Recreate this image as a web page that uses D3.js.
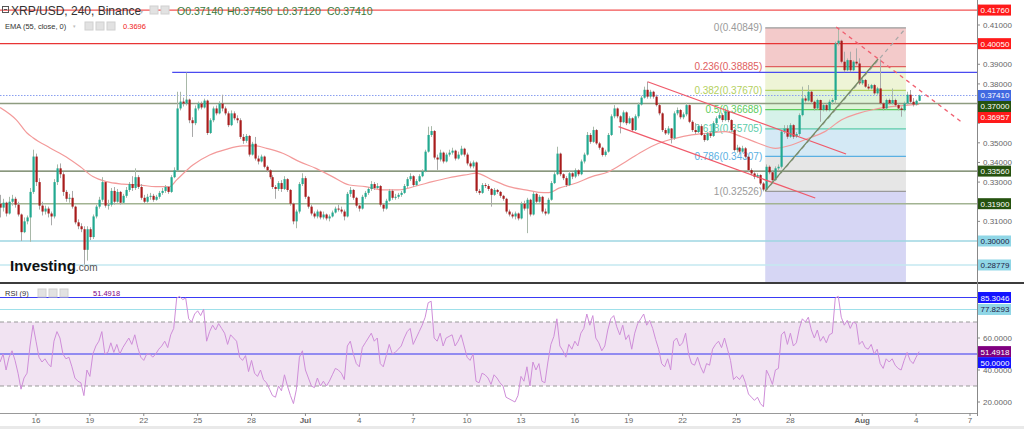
<!DOCTYPE html>
<html><head><meta charset="utf-8">
<script src="https://cdn.jsdelivr.net/npm/d3@7"></script>
<style>body{margin:0;background:#fff;overflow:hidden}svg{display:block;font-family:"Liberation Sans",Arial,sans-serif}</style>
</head><body><svg id="c" width="1024" height="429"></svg>
<script>
// ---------- DATA (prices in 1e-4 USD) ----------
const startUTC = Date.UTC(2022,5,14);   // first 4h candle
const open0 = 3190;
const close = [3170,3195,3140,3200,3215,3185,3135,3045,3100,3120,3250,3430,3300,3180,3150,3165,3140,3125,3300,3370,
3340,3250,3215,3220,3175,3095,3075,3060,2955,3060,3020,3125,3175,3210,3300,3180,3185,3255,3200,3250,
3195,3230,3260,3290,3270,3325,3275,3220,3200,3225,3230,3210,3225,3245,3255,3275,3250,3325,3360,3675,
3710,3700,3720,3615,3600,3675,3700,3680,3715,3550,3615,3675,3650,3700,3675,3650,3590,3650,3625,3615,
3530,3510,3535,3440,3495,3420,3405,3430,3378,3360,3325,3275,3265,3295,3265,3315,3260,3190,3100,3150,
3290,3320,3225,3175,3140,3125,3150,3120,3135,3115,3125,3145,3165,3160,3150,3125,3240,3260,3220,3180,
3165,3225,3245,3265,3290,3270,3280,3185,3165,3205,3255,3220,3225,3235,3245,3280,3315,3330,3285,3305,
3330,3355,3455,3540,3560,3425,3415,3450,3405,3440,3450,3460,3420,3440,3470,3440,3395,3380,3400,3255,
3245,3285,3280,3265,3235,3260,3250,3230,3215,3150,3135,3125,3140,3115,3190,3165,3210,3135,3240,3200,
3225,3150,3140,3210,3295,3340,3445,3340,3320,3285,3345,3328,3360,3340,3405,3440,3540,3505,3565,3497,
3475,3438,3455,3540,3635,3675,3635,3605,3655,3600,3625,3565,3635,3695,3730,3770,3735,3760,3735,3692,
3650,3565,3548,3573,3523,3650,3667,3630,3645,3692,3607,3565,3555,3585,3540,3514,3548,3535,3600,3625,
3641,3616,3660,3616,3565,3463,3475,3455,3472,3429,3361,3344,3327,3336,3293,3262,3378,3350,3310,3370,
3378,3557,3573,3531,3590,3531,3545,3641,3726,3715,3760,3709,3675,3718,3667,3692,3667,3709,3718,4006,
4020,3913,3870,3921,3870,3913,3904,3803,3820,3786,3777,3794,3752,3777,3701,3675,3718,3701,3718,3692,
3675,3667,3701,3745,3709,3695,3714,3741];
const high = [3235,3215,3200,3225,3235,3225,3200,3140,3120,3130,3270,3465,3445,3320,3200,3180,3175,3150,3315,3390,
3395,3350,3260,3240,3255,3180,3110,3090,3075,3075,3070,3135,3185,3225,3325,3290,3210,3270,3275,3265,
3255,3240,3275,3300,3330,3370,3335,3290,3235,3240,3245,3240,3235,3255,3270,3285,3280,3335,3375,3760,
3760,3730,3858,3725,3630,3690,3710,3710,3725,3720,3625,3685,3690,3712,3745,3685,3660,3665,3660,3640,
3625,3545,3545,3540,3505,3530,3435,3440,3435,3385,3365,3335,3285,3305,3310,3330,3320,3265,3195,3160,
3300,3345,3330,3230,3185,3150,3160,3155,3150,3140,3135,3155,3175,3185,3175,3160,3250,3275,3265,3225,
3185,3235,3255,3275,3305,3300,3295,3285,3190,3215,3265,3262,3240,3245,3255,3290,3325,3345,3335,3315,
3340,3365,3465,3582,3585,3565,3440,3465,3455,3450,3465,3475,3465,3455,3485,3475,3450,3405,3410,3405,
3265,3295,3295,3290,3270,3270,3265,3255,3235,3220,3160,3145,3150,3145,3200,3205,3220,3215,3250,3245,
3235,3230,3165,3220,3305,3350,3480,3450,3345,3330,3355,3350,3370,3365,3415,3450,3555,3550,3582,3570,
3505,3480,3465,3550,3645,3692,3680,3640,3665,3660,3635,3630,3645,3705,3740,3786,3811,3770,3765,3745,
3700,3655,3575,3585,3575,3660,3680,3672,3655,3704,3695,3615,3600,3595,3595,3550,3555,3555,3610,3635,
3655,3650,3675,3665,3620,3570,3490,3480,3485,3478,3435,3370,3350,3345,3340,3300,3390,3385,3355,3380,
3390,3565,3590,3590,3600,3595,3555,3650,3786,3740,3794,3765,3715,3725,3720,3700,3700,3720,3728,4015,
4085,4025,3964,3930,3964,3920,3981,3930,3830,3825,3800,3800,3800,3785,3925,3705,3725,3725,3777,3725,
3700,3685,3710,3760,3769,3728,3720,3745];
const low = [3120,3150,3125,3135,3180,3170,3125,3000,3040,3085,2996,3240,3280,3160,3130,3135,3120,3080,3115,3285,
3320,3230,3200,3195,3165,3085,3060,3045,2880,2900,3005,3010,3115,3165,3200,3170,3160,3175,3185,3195,
3185,3190,3220,3250,3255,3260,3265,3210,3190,3195,3210,3200,3205,3215,3235,3245,3240,3245,3320,3355,
3665,3685,3690,3600,3530,3590,3665,3670,3675,3540,3545,3605,3640,3645,3660,3640,3580,3585,3615,3600,
3520,3495,3500,3430,3435,3410,3390,3400,3370,3350,3315,3265,3215,3255,3250,3260,3250,3180,3085,3065,
3140,3280,3215,3165,3130,3115,3115,3110,3110,3105,3100,3120,3140,3150,3140,3105,3120,3225,3210,3170,
3150,3160,3215,3235,3255,3260,3265,3175,3150,3160,3200,3210,3210,3215,3225,3240,3270,3305,3275,3280,
3300,3325,3350,3450,3530,3415,3362,3405,3395,3400,3430,3440,3410,3415,3435,3430,3385,3370,3370,3245,
3235,3240,3270,3255,3175,3230,3240,3220,3205,3140,3125,3115,3110,3105,3110,3155,3040,3125,3130,3190,
3195,3140,3130,3135,3205,3290,3335,3330,3310,3275,3280,3315,3320,3330,3335,3395,3435,3495,3500,3490,
3465,3430,3430,3450,3535,3625,3625,3548,3600,3590,3595,3555,3560,3625,3690,3725,3725,3725,3725,3685,
3640,3555,3540,3540,3497,3515,3640,3620,3620,3635,3600,3555,3545,3550,3535,3505,3510,3525,3530,3595,
3620,3605,3610,3605,3555,3455,3450,3445,3450,3420,3350,3335,3315,3320,3285,3253,3255,3340,3300,3305,
3360,3370,3545,3520,3525,3520,3525,3535,3635,3705,3710,3700,3665,3670,3607,3660,3660,3660,3695,3700,
3995,3905,3860,3865,3860,3865,3895,3795,3795,3780,3770,3772,3745,3745,3695,3665,3670,3695,3695,3685,
3665,3633,3660,3695,3700,3685,3690,3712];
// EMA(55): candle index -> value
const emaIdx = [0,5.5,9,11,16.7,22,26.7,31,35.5,41,46.7,52,56.7,59,64.4,70,75.5,81,85.5,89,94.4,100,105.5,111,116.7,122,127.7,133,139,144.4,150,156.7,159,164.4,170,175.5,180,183.3,186.7,192.2,197.7,203.3,209,214.4,220,225.5,231,236.7,242.2,247.7,253.3,259,264.4,270,275.5,281,286.7,292.2,297.7,307];
const emaVal = [3680,3616,3550,3526,3474,3429,3379,3328,3302,3290,3285,3277,3277,3311,3387,3438,3467,3484,3484,3472,3447,3404,3370,3328,3285,3277,3260,3260,3280,3302,3322,3340,3346,3311,3277,3260,3248,3246,3269,3294,3328,3353,3404,3455,3498,3523,3540,3549,3557,3531,3498,3472,3489,3523,3557,3616,3650,3671,3684,3696];
// RSI(9), one value per candle
const rsi = [45,50,40,48,52,46,38,28,35,38,55,68,58,48,45,47,44,42,58,64,60,50,47,48,42,35,33,32,24,40,36,50,55,58,64,50,51,57,51,56,50,
54,57,60,56,62,54,48,46,50,50,48,50,53,55,58,54,62,66,85,86,84,85,72,70,75,77,74,78,58,64,68,65,69,66,63,56,62,60,58,48,
46,49,39,46,38,36,40,34,32,28,24,23,30,27,37,30,24,19,28,48,52,40,35,30,29,35,30,33,30,33,37,41,40,38,34,55,58,50,44,42,54,57,
60,63,58,60,44,42,49,56,50,51,53,55,60,64,66,56,60,64,68,73,82,83,60,58,63,55,60,61,62,55,58,62,55,48,46,50,33,32,38,37,35,31,
37,35,32,30,23,22,21,20,24,36,33,42,30,45,40,44,33,32,45,56,61,72,55,52,48,56,53,58,55,63,66,75,68,74,60,57,52,55,65,72,74,67,
62,68,59,62,53,63,69,72,75,68,71,66,59,53,44,42,47,40,58,60,55,57,63,50,44,43,48,42,38,44,43,53,56,58,54,60,53,46,34,36,34,37,
32,25,23,21,23,19,17,40,36,31,40,41,62,64,56,63,55,57,66,72,70,73,65,60,65,58,61,57,62,63,85,86,73,68,71,66,70,69,56,58,54,53,
56,50,53,44,41,47,45,47,43,41,40,46,51,46,44,48,51.4918];
// horizontal price levels drawn on the chart
const hLevels = [0.41760,0.40050,0.37410,0.37000,0.33560,0.31900,0.30000,0.28779];
const emaLast = 0.36957;
const blueLevel = {from:57.5, price:0.3859};
// Fibonacci retracement
const fibRatios = ["0","0.236","0.382","0.5","0.618","0.786","1"];
const fibPrices = [0.40849,0.38885,0.37670,0.36688,0.35705,0.34307,0.32526];
const fibFrom = 255.6, fibTo = 302.6;
// trend lines: [candle index, price]
const chanUpper = [[216.3,0.3811],[282.6,0.3443]];
const chanLower = [[206.6,0.3582],[272.3,0.3219]];
const redDash   = [[279.3,0.4090],[321.6,0.3601]];
const upTrend   = [[255.6,0.3255],[293.3,0.3927]];
// RSI levels
const rsiLevels = [85.3046,77.8293,50];
const rsiBand = [30,70];
const rsiTicks = [20,40,60];
const priceTicks = d3.range(29,43).map(v=>v/100);
const dateTicks = ["2022-06-16","2022-06-19","2022-06-22","2022-06-25","2022-06-28","2022-07-01","2022-07-04","2022-07-07","2022-07-10","2022-07-13","2022-07-16","2022-07-19","2022-07-22","2022-07-25","2022-07-28","2022-08-01","2022-08-04","2022-08-07"];
const ohlcLast = ["O0.37140","H0.37450","L0.37120","C0.37410"];

// ---------- LAYOUT ----------
const svg = d3.select("#c");
const plotR = 977, mainT = 0, mainB = 282, rsiT = 285, rsiB = 413;
const T = i => new Date(startUTC + i*4*3600e3);
const x = d3.scaleUtc().domain([new Date(Date.UTC(2022,5,16)), new Date(Date.UTC(2022,7,7))]).range([36,970]);
const xi = i => x(T(i));
const y = d3.scaleLinear().domain([0.30,0.41]).range([241,25]);
const yr = d3.scaleLinear().domain([20,60]).range([402,338]);
const P = v => v/10000;

const defs = svg.append("defs");
defs.append("clipPath").attr("id","mc").append("rect").attr("x",0).attr("y",mainT).attr("width",plotR).attr("height",mainB-mainT);
defs.append("clipPath").attr("id","rc").append("rect").attr("x",0).attr("y",rsiT).attr("width",plotR).attr("height",rsiB-rsiT);

svg.append("rect").attr("width",1024).attr("height",429).attr("fill","#fff");
const main = svg.append("g").attr("clip-path","url(#mc)");

// Fibonacci zones
const fibFill = ["#f3caca","#eef4d6","#def4d8","#d6f2e9","#d4e9f5","#e6e6e6"];
const fibLine = ["#9a9a9a","#e06060","#b4d060","#5ccc5c","#5cccaa","#5ab0e2","#9a9a9a"];
const fx0 = xi(fibFrom), fx1 = xi(fibTo);
for (let k=0;k<6;k++){
  main.append("rect").attr("x",fx0).attr("width",fx1-fx0)
    .attr("y",y(fibPrices[k])).attr("height",y(fibPrices[k+1])-y(fibPrices[k])).attr("fill",fibFill[k]);
}
main.append("rect").attr("x",fx0).attr("width",fx1-fx0).attr("y",y(fibPrices[6])).attr("height",mainB-y(fibPrices[6])).attr("fill","#d6d6f4");
fibPrices.forEach((p,k)=>{
  main.append("line").attr("x1",fx0).attr("x2",fx1).attr("y1",y(p)).attr("y2",y(p)).attr("stroke",fibLine[k]).attr("stroke-width",1.2);
  main.append("text").attr("x",fx0-3).attr("y",y(p)+3.5).attr("text-anchor","end").attr("font-size",10).attr("fill",fibLine[k])
    .text(fibRatios[k]+"("+p.toFixed(5)+")");
});

// horizontal lines
const hStyle = [
 {c:"#f25252",w:1.3,bg:"#ff1a1a",tc:"#fff"},
 {c:"#e83434",w:1.3,bg:"#ff1a1a",tc:"#fff"},
 {c:"#8a9ff0",w:1.2,bg:"#4169e1",tc:"#fff",dash:"1.5,1.5"},
 {c:"#8e9c80",w:1.6,bg:"#25520f",tc:"#fff"},
 {c:"#627552",w:1.4,bg:"#25520f",tc:"#fff"},
 {c:"#a2b392",w:1.4,bg:"#25520f",tc:"#fff"},
 {c:"#9ed6e2",w:1.3,bg:"#8fd6e6",tc:"#224"},
 {c:"#c4e8f0",w:1.5,bg:"#8fd6e6",tc:"#224"}];
hLevels.forEach((p,k)=>{
  const s=hStyle[k];
  main.append("line").attr("x1",0).attr("x2",plotR).attr("y1",y(p)).attr("y2",y(p))
    .attr("stroke",s.c).attr("stroke-width",s.w).attr("stroke-dasharray",s.dash||null);
});
main.append("line").attr("x1",xi(blueLevel.from)).attr("x2",plotR).attr("y1",y(blueLevel.price)).attr("y2",y(blueLevel.price))
  .attr("stroke","#4a4af0").attr("stroke-width",1.2);

// EMA
const emaPts = emaIdx.map((d,k)=>[xi(d), y(P(emaVal[k]))]);
main.append("path").attr("d",d3.line().curve(d3.curveMonotoneX)(emaPts)).attr("fill","none").attr("stroke","#f39a9a").attr("stroke-width",1.2);

// candles
const cg = main.append("g");
close.forEach((c,i)=>{
  const o = i? close[i-1] : open0;
  const cx = Math.round(xi(i));
  const bull = c>=o;
  cg.append("line").attr("x1",cx+0.5).attr("x2",cx+0.5).attr("y1",y(P(high[i]))).attr("y2",y(P(low[i])))
    .attr("stroke",bull?"#a8b8a8":"#a9a9a9").attr("stroke-width",1);
  const yt = y(P(Math.max(o,c))), yb = y(P(Math.min(o,c)));
  cg.append("rect").attr("x",cx-0.5).attr("width",2.2).attr("y",yt).attr("height",Math.max(1,yb-yt))
    .attr("fill",bull?"#22a990":"#a81c1c");
});

// trend lines
const seg = (pts,col,w,dash)=>main.append("line")
  .attr("x1",xi(pts[0][0])).attr("y1",y(pts[0][1])).attr("x2",xi(pts[1][0])).attr("y2",y(pts[1][1]))
  .attr("stroke",col).attr("stroke-width",w).attr("stroke-dasharray",dash||null);
seg(chanUpper,"#f05a6a",1.3);
seg(chanLower,"#f05a6a",1.3);
seg(redDash,"#f06070",1.3,"4,4");
seg([[fibFrom,fibPrices[6]],[fibTo,fibPrices[0]]],"#a8a8a8",1.2,"4,4");
seg(upTrend,"#748a64",1.3);

// Investing logo
const logo = svg.append("text").attr("x",10).attr("y",271);
logo.append("tspan").attr("font-size",15).attr("font-weight","bold").attr("fill","#111").text("Investing");
logo.append("tspan").attr("font-size",10).attr("fill","#555").text(".com");

// ---------- RSI panel ----------
const rp = svg.append("g").attr("clip-path","url(#rc)");
rp.append("rect").attr("x",0).attr("width",plotR).attr("y",yr(rsiBand[1])).attr("height",yr(rsiBand[0])-yr(rsiBand[1])).attr("fill","#f1e3f2");
rsiBand.forEach(v=>rp.append("line").attr("x1",0).attr("x2",plotR).attr("y1",yr(v)).attr("y2",yr(v)).attr("stroke","#999").attr("stroke-dasharray","4,3"));
const rsiStyle=[{c:"#3a3af5",bg:"#1414ff",tc:"#fff"},{c:"#9ee0ea",bg:"#8fd6e6",tc:"#224"},{c:"#3434f0",bg:"#1414ff",tc:"#fff"}];
rsiLevels.forEach((v,k)=>rp.append("line").attr("x1",0).attr("x2",plotR).attr("y1",yr(v)).attr("y2",yr(v)).attr("stroke",rsiStyle[k].c).attr("stroke-width",1.1));
rp.append("path").attr("d",d3.line()(rsi.map((v,i)=>[xi(i),yr(v)]))).attr("fill","none").attr("stroke","#cf8ed9").attr("stroke-width",1);

// ---------- frames & axes ----------
svg.append("line").attr("x1",0).attr("x2",1024).attr("y1",283).attr("y2",283).attr("stroke","#3c3c3c").attr("stroke-width",2);
svg.append("line").attr("x1",plotR+0.5).attr("x2",plotR+0.5).attr("y1",0).attr("y2",rsiB+3).attr("stroke","#888");
svg.append("line").attr("x1",0).attr("x2",plotR).attr("y1",rsiB+0.5).attr("y2",rsiB+0.5).attr("stroke","#999");
svg.append("rect").attr("x",0).attr("y",426).attr("width",1024).attr("height",3).attr("fill","#e9e9e9");

// value label positions with simple stacking
function stack(items){
  items.sort((a,b)=>a.y-b.y);
  let last=-1e9;
  items.forEach(it=>{ it.py=Math.max(it.y,last+11); last=it.py; });
  return items;
}
const mainLabels = stack(hLevels.map((p,k)=>({y:y(p),bg:hStyle[k].bg,tc:hStyle[k].tc,t:p.toFixed(5)}))
  .concat([{y:y(emaLast),bg:"#ff1a1a",tc:"#fff",t:emaLast.toFixed(5)}]));
const rsiLabels = stack(rsiLevels.map((v,k)=>({y:yr(v),bg:rsiStyle[k].bg,tc:rsiStyle[k].tc,t:v.toFixed(4)}))
  .concat([{y:yr(rsi[rsi.length-1]),bg:"#800080",tc:"#fff",t:rsi[rsi.length-1].toFixed(4)}]));
const free = (yy,labs)=>labs.every(l=>Math.abs(l.py-yy)>=7);

// tick labels
const axg = svg.append("g").attr("font-size",8).attr("fill","#666");
priceTicks.forEach(p=>{
  const yy=y(p); if(yy<2||yy>mainB-3) return;
  axg.append("line").attr("x1",plotR).attr("x2",plotR+3).attr("y1",yy).attr("y2",yy).attr("stroke","#888");
  if(free(yy,mainLabels)) axg.append("text").attr("x",plotR+6).attr("y",yy+3).text(p.toFixed(5));
});
rsiTicks.forEach(v=>{
  const yy=yr(v);
  axg.append("line").attr("x1",plotR).attr("x2",plotR+3).attr("y1",yy).attr("y2",yy).attr("stroke","#888");
  if(free(yy,rsiLabels)) axg.append("text").attr("x",plotR+6).attr("y",yy+3).text(v.toFixed(4));
});
dateTicks.forEach(s=>{
  const d = new Date(s+"T00:00:00Z"); const xx = x(d);
  axg.append("line").attr("x1",xx).attr("x2",xx).attr("y1",rsiB).attr("y2",rsiB+3).attr("stroke","#888");
  const lab = d.getUTCDate()===1 ? d3.utcFormat("%b")(d) : String(d.getUTCDate());
  axg.append("text").attr("x",xx).attr("y",rsiB+10).attr("text-anchor","middle").attr("font-weight",d.getUTCDate()===1?"bold":null).text(lab);
});
mainLabels.concat(rsiLabels).forEach(it=>{
  svg.append("rect").attr("x",plotR+1).attr("y",it.py-5.5).attr("width",33).attr("height",11).attr("fill",it.bg);
  svg.append("text").attr("x",plotR+3.5).attr("y",it.py+3).attr("font-size",8).attr("fill",it.tc).text(it.t);
});

// ---------- headers ----------
const icon=(xx,yy)=>svg.append("rect").attr("x",xx).attr("y",yy).attr("width",8).attr("height",8).attr("fill","#e2e2e2").attr("stroke","#d0d0d0");
svg.append("rect").attr("x",2.5).attr("y",6.5).attr("width",6).attr("height",6).attr("fill","none").attr("stroke","#555");
svg.append("line").attr("x1",4).attr("x2",7).attr("y1",9.5).attr("y2",9.5).attr("stroke","#555");
svg.append("text").attr("x",11).attr("y",15).attr("font-size",12).attr("fill","#333").text("XRP/USD, 240, Binance");
svg.append("text").attr("x",140).attr("y",14).attr("font-size",6).attr("fill","#bbb").text("▾");
icon(150,6); icon(161,6);
const ohlc = svg.append("text").attr("y",15).attr("font-size",10.5).attr("fill","#3a7a3a");
ohlcLast.forEach((s,k)=>ohlc.append("tspan").attr("x",177+k*50).text(s));
svg.append("text").attr("x",5).attr("y",29).attr("font-size",7.5).attr("fill","#333").text("EMA (55, close, 0)");
svg.append("text").attr("x",73).attr("y",28).attr("font-size",5).attr("fill","#bbb").text("▾");
icon(85,22); icon(96,22); icon(107,22);
svg.append("text").attr("x",123).attr("y",29).attr("font-size",7.5).attr("fill","#f02020").text("0.3696");
svg.append("text").attr("x",5).attr("y",296).attr("font-size",7.5).attr("fill","#333").text("RSI (9)");
icon(38,289); icon(49,289); icon(60,289);
svg.append("text").attr("x",93).attr("y",296).attr("font-size",7.5).attr("fill","#800080").text("51.4918");
</script></body></html>
